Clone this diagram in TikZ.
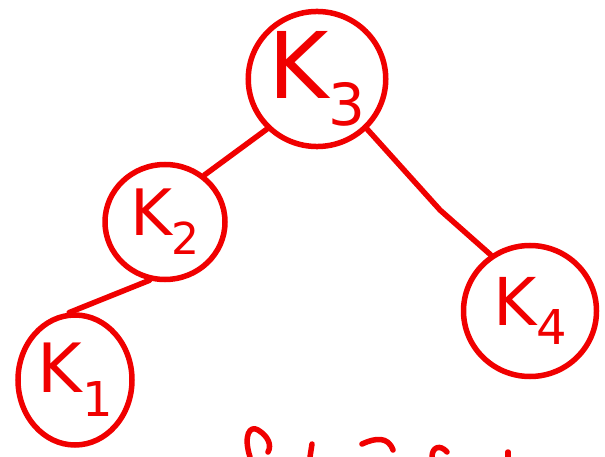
\documentclass[tikz,border=0pt]{standalone}
\usepackage{fontspec}
\setsansfont{DejaVu Sans}
\usetikzlibrary{shapes.geometric}
\definecolor{ink}{RGB}{240,0,0}
\begin{document}
\begin{tikzpicture}[x=1pt,y=-1pt,
  keynode/.style={draw=ink,ellipse,line width=5.5pt,inner sep=0pt,text=ink,font=\sffamily},
  link/.style={draw=ink,line width=5.5pt,line cap=round,line join=round}]
\useasboundingbox (0,0) rectangle (605,457);
\fill[white] (0,0) rectangle (605,457);
\node[keynode,minimum width=130pt,minimum height=128pt,font=\sffamily\fontsize{92}{92}\selectfont] (k3) at (317,79) {K\raisebox{-0.3em}{\fontsize{58}{58}\selectfont 3}};
\node[keynode,minimum width=120pt,minimum height=115pt,font=\sffamily\fontsize{64}{64}\selectfont] (k2) at (165,222) {K\raisebox{-0.3em}{\fontsize{44}{44}\selectfont 2}};
\node[keynode,minimum width=133pt,minimum height=131pt,font=\sffamily\fontsize{66}{66}\selectfont] (k4) at (530,311) {K\raisebox{-0.3em}{\fontsize{48}{48}\selectfont 4}};
\node[keynode,minimum width=114pt,minimum height=130pt,font=\sffamily\fontsize{68}{68}\selectfont] (k1) at (75,380) {K\raisebox{-0.35em}{\fontsize{48}{48}\selectfont 1}};
\draw[link] (k3.225) -- (k2.50);
\draw[link] (k3.-45) -- (440,210) -- (k4.125);
\draw[link] (k2.-105) -- (k1.95);
% partial handwriting at the bottom edge
\draw[link] (250,457) .. controls (243,435) and (250,425) .. (258,430) .. controls (268,436) and (272,445) .. (268,452);
\draw[link] (312,444) -- (310,457);
\draw[link] (362,444) .. controls (375,438) and (388,436) .. (393,450);
\draw[link] (432,457) .. controls (432,447) and (440,444) .. (447,452);
\draw[link] (508,452) -- (508,457);
\end{tikzpicture}
\end{document}
